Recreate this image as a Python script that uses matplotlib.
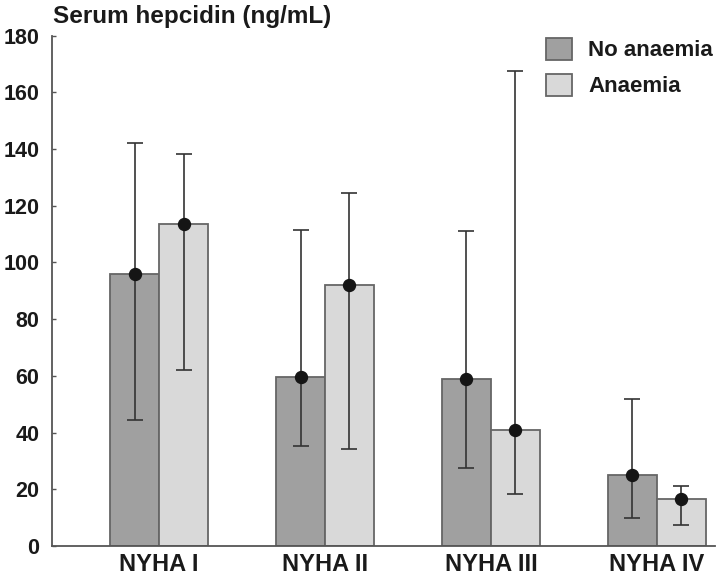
import numpy as np
import matplotlib.pyplot as plt

# data
groups = ["NYHA I", "NYHA II", "NYHA III", "NYHA IV"]
series = ["No anaemia", "Anaemia"]
no_anaemia = [95.8, 59.5, 58.8, 25.2]
no_anaemia_lo = [44.4, 35.4, 27.6, 9.8]
no_anaemia_hi = [142.2, 111.5, 110.9, 51.9]
anaemia = [113.6, 92.1, 40.8, 16.6]
anaemia_lo = [62.1, 34.2, 18.2, 7.4]
anaemia_hi = [138.3, 124.4, 167.5, 21.2]

plt.rcParams['font.family'] = ['Liberation Sans', 'DejaVu Sans']

fig = plt.figure(figsize=(7.2, 5.76), dpi=100)
ax = fig.add_axes([52 / 720, 1 - 546 / 576, (715 - 52) / 720, (546 - 35.5) / 576])

x = np.arange(len(groups))
w = 0.295
colors = ['#a0a0a0', '#d9d9d9']
vals = [no_anaemia, anaemia]
los = [no_anaemia_lo, anaemia_lo]
his = [no_anaemia_hi, anaemia_hi]

for i, (v, lo, hi) in enumerate(zip(vals, los, his)):
    pos = x + (i - 0.5) * w
    v = np.array(v)
    ax.bar(pos, v, width=w, color=colors[i], edgecolor='#666666',
           linewidth=1.3, label=series[i], zorder=2)
    yerr = [v - np.array(lo), np.array(hi) - v]
    ax.errorbar(pos, v, yerr=yerr, fmt='none', ecolor='#333333',
                elinewidth=1.2, capsize=6, capthick=1.2, zorder=3)
    ax.plot(pos, v, 'o', color='#151515', markersize=8.6, zorder=4)

ax.set_xlim(-0.645, 3.35)
ax.set_ylim(0, 180)
ax.set_yticks(np.arange(0, 181, 20))
ax.set_xticks(x)
ax.set_xticklabels(groups, fontsize=17, fontweight='bold', color='#1a1a1a')
ax.tick_params(axis='x', length=0, pad=5)
ax.tick_params(axis='y', direction='in', length=3, width=1, color='#555555',
               pad=9, labelsize=15.5, labelcolor='#1a1a1a')
for lab in ax.get_yticklabels():
    lab.set_fontweight('bold')

for s in ['top', 'right']:
    ax.spines[s].set_visible(False)
for s in ['left', 'bottom']:
    ax.spines[s].set_color('#555555')
    ax.spines[s].set_linewidth(1.3)

fig.text(53 / 720, 1 - 23 / 576, "Serum hepcidin (ng/mL)", fontsize=17.5,
         fontweight='bold', color='#1a1a1a', va='baseline', ha='left')

leg = ax.legend(loc='upper left', bbox_to_anchor=(546 / 720, 1 - 37.5 / 576),
                bbox_transform=fig.transFigure, frameon=False, borderpad=0,
                borderaxespad=0, handlelength=1.17, handleheight=1.2,
                labelspacing=0.55, handletextpad=0.72,
                prop={'size': 16, 'weight': 'bold'})
for t in leg.get_texts():
    t.set_color('#1a1a1a')

fig.savefig('out.png', dpi=100)
